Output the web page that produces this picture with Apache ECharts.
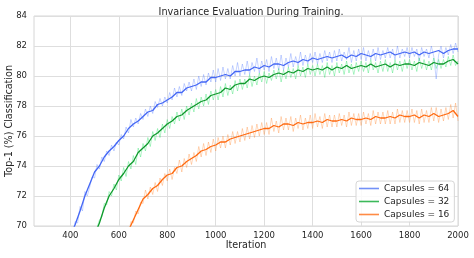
<!DOCTYPE html>
<html><head><meta charset="utf-8">
<script src="https://cdn.jsdelivr.net/npm/echarts@6/dist/echarts.min.js"></script>
<style>html,body{margin:0;padding:0;background:#fff}#c{width:474px;height:258px}</style>
</head><body><div id="c"></div>
<script>
// ---------- data ----------
const title = 'Invariance Evaluation During Training.';
const xName = 'Iteration';
const yName = 'Top-1 (%) Classification';
const seriesNames = ['Capsules = 64', 'Capsules = 32', 'Capsules = 16'];
const xTicks = [400, 600, 800, 1000, 1200, 1400, 1600, 1800, 2000];

// smoothed curves, one value every 20 iterations
const smoothStep = 20;
const cap64Start = 400;
const cap64 = [69.3,70.1,71.0,72.0,72.8,73.6,74.0,74.6,75.0,75.3,
  75.7,76.0,76.5,76.8,77.0,77.3,77.6,77.7,78.1,78.2,
  78.4,78.6,78.9,78.9,79.2,79.3,79.4,79.6,79.6,79.9,
  79.9,80.0,80.1,80.0,80.3,80.3,80.4,80.4,80.6,80.5,
  80.7,80.6,80.8,80.8,80.7,80.9,81.0,80.9,81.1,81.0,
  81.2,81.1,81.2,81.3,81.2,81.3,81.4,81.2,81.4,81.3,
  81.5,81.4,81.3,81.5,81.4,81.5,81.6,81.4,81.5,81.6,
  81.5,81.6,81.4,81.6,81.5,81.6,81.7,81.5,81.7,81.8,81.8];
const cap32Start = 500;
const cap32 = [69.4,70.2,71.2,72.0,72.5,73.1,73.5,74.0,74.3,74.9,
  75.2,75.5,76.0,76.2,76.5,76.8,77.0,77.3,77.4,77.7,
  77.9,78.1,78.3,78.4,78.7,78.8,78.9,79.2,79.1,79.4,
  79.5,79.5,79.8,79.7,79.9,80.0,79.9,80.1,80.2,80.1,
  80.3,80.2,80.4,80.3,80.5,80.4,80.5,80.4,80.6,80.4,
  80.6,80.5,80.7,80.5,80.6,80.7,80.6,80.8,80.6,80.7,
  80.8,80.6,80.8,80.7,80.8,80.8,80.7,80.9,80.8,80.7,
  80.9,80.8,80.8,81.0,81.1,80.8];
const cap16Start = 640;
const cap16 = [69.7,70.4,71.1,71.8,72.1,72.5,72.7,73.1,73.4,73.5,
  73.9,74.0,74.3,74.5,74.7,75.0,75.1,75.3,75.4,75.6,
  75.6,75.8,75.9,76.0,76.1,76.2,76.3,76.4,76.5,76.5,
  76.7,76.6,76.8,76.8,76.7,76.9,76.8,76.9,76.9,77.0,
  76.9,77.1,77.0,77.0,77.1,77.0,77.2,77.1,77.1,77.2,
  77.1,77.3,77.2,77.2,77.3,77.2,77.4,77.3,77.3,77.4,
  77.2,77.4,77.3,77.5,77.3,77.4,77.5,77.7,77.3];

// raw (unsmoothed) curves, one value every 10 iterations
const rawStep = 10;
const cap64Raw = [69.0,69.6,70.3,70.2,71.3,71.0,72.3,72.0,72.6,73.3,
  73.2,74.1,73.8,74.6,74.3,75.0,74.7,75.4,75.0,75.6,
  75.4,76.1,75.8,76.6,76.2,77.1,76.6,77.2,76.8,77.5,
  77.1,77.8,77.3,78.0,77.5,78.3,77.9,78.5,78.0,78.6,
  78.2,78.9,78.4,79.2,78.6,79.3,78.7,79.5,79.0,79.6,
  79.0,79.8,79.1,80.0,79.3,80.1,79.4,80.2,79.6,80.4,
  79.6,80.5,79.7,80.6,79.8,80.5,79.8,80.7,80.0,80.9,
  80.0,80.8,80.1,81.0,80.1,80.9,80.3,81.2,80.2,81.0,
  80.4,81.1,80.3,81.3,80.5,81.2,80.4,81.4,80.4,81.2,
  80.6,81.5,80.6,81.3,80.7,81.6,80.7,81.4,80.8,81.5,
  80.9,81.6,80.8,81.5,80.9,81.7,81.0,81.6,80.9,81.7,
  81.0,81.8,81.0,81.6,81.1,81.9,80.9,81.7,81.0,81.8,
  81.1,81.9,81.0,81.7,81.1,81.8,81.0,81.9,81.1,81.7,
  81.2,81.9,81.2,81.8,81.1,82.0,81.2,81.8,81.3,81.9,
  81.2,81.9,81.3,81.8,81.0,81.9,81.3,81.8,81.2,82.0,
  81.3,79.8,81.4,82.0,81.2,81.9,81.4,82.1,81.5,82.2,81.6];
const cap32Raw = [69.0,69.9,70.4,70.6,71.5,71.4,72.3,72.0,72.8,72.4,
  73.4,73.0,73.9,73.3,74.3,73.8,74.7,74.1,75.2,74.6,
  75.5,75.0,75.9,75.3,76.3,75.7,76.5,75.9,76.8,76.2,
  77.1,76.5,77.3,76.8,77.6,77.0,77.8,77.1,78.0,77.4,
  78.2,77.6,78.5,77.8,78.6,78.0,78.8,78.1,79.0,78.4,
  79.1,78.4,79.3,78.6,79.5,78.7,79.4,78.8,79.7,79.0,
  79.8,79.1,79.8,79.2,80.1,79.3,80.0,79.4,80.2,79.6,
  80.3,79.5,80.2,79.7,80.4,79.8,80.5,79.6,80.4,79.8,
  80.6,79.9,80.5,79.8,80.7,80.0,80.6,79.9,80.8,80.1,
  80.7,80.0,80.8,80.1,80.7,79.9,80.9,80.1,80.7,80.0,
  80.9,80.2,80.8,80.1,81.0,80.2,80.8,80.1,80.9,80.3,
  81.0,80.3,80.9,80.2,81.1,80.4,80.9,80.2,81.0,80.3,
  81.1,80.3,80.9,80.2,81.1,80.4,81.0,80.3,81.1,80.5,
  81.1,80.4,81.0,80.3,81.2,80.5,81.1,80.4,81.0,80.4,
  81.2,80.5,81.1,80.5,81.1,80.6,81.3,80.7,81.4,80.7,81.0];
const cap16Raw = [69.4,70.3,70.2,71.0,70.8,71.6,
  71.5,72.4,71.8,72.6,72.1,72.9,72.3,73.2,72.7,73.5,
  73.0,73.8,73.1,73.9,73.5,74.4,73.6,74.5,73.9,74.8,
  74.1,74.9,74.3,75.3,74.6,75.5,74.7,75.6,74.9,75.8,
  75.0,75.9,75.2,76.0,75.2,76.1,75.4,76.3,75.5,76.3,
  75.6,76.5,75.7,76.6,75.8,76.7,75.9,76.8,76.0,76.9,
  76.1,76.9,76.1,77.2,76.3,77.0,76.2,77.3,76.4,77.2,
  76.4,77.3,76.3,77.2,76.5,77.4,76.4,77.2,76.5,77.4,
  76.5,77.5,76.6,77.3,76.5,77.5,76.6,77.4,76.6,77.4,
  76.6,77.5,76.7,77.4,76.6,77.6,76.7,77.5,76.7,77.5,
  76.7,77.6,76.8,77.5,76.7,77.7,76.8,77.6,76.8,77.6,
  76.8,77.7,76.8,77.6,76.8,77.8,76.9,77.7,76.9,77.7,
  76.9,77.8,76.9,77.7,76.8,77.8,76.9,77.7,76.9,77.9,
  77.0,77.9,76.9,77.8,77.0,77.9,77.1,78.1,77.2,78.2,77.0];

// ---------- build ----------
function pairs(start, step, vals) { return vals.map((v, i) => [start + i * step, v]); }

const mainColors = ['#4467f5', '#0f9a2c', '#ff6a10'];
const rawColors = ['rgba(80,120,255,0.32)', 'rgba(40,225,100,0.36)', 'rgba(255,130,40,0.32)'];
const legendColors = ['#7391f7', '#3cb95a', '#ff8b45'];
const smooth = [[cap64Start, cap64], [cap32Start, cap32], [cap16Start, cap16]];
const raw = [[cap64Start, cap64Raw], [cap32Start, cap32Raw], [cap16Start, cap16Raw]];

const series = [];
for (let k = 0; k < 3; k++) {
  series.push({
    name: seriesNames[k] + ' raw', type: 'line', symbol: 'none', silent: true,
    data: pairs(raw[k][0], rawStep, raw[k][1]),
    lineStyle: { color: rawColors[k], width: 1 }, itemStyle: { color: rawColors[k] }, z: 2 + k * 2
  });
  series.push({
    name: seriesNames[k], type: 'line', symbol: 'none', showSymbol: false,
    data: pairs(smooth[k][0], smoothStep, smooth[k][1]),
    lineStyle: { color: mainColors[k], width: 1.3 }, itemStyle: { color: mainColors[k] }, z: 3 + k * 2
  });
}

const txt = '#262626';
const chart = echarts.init(document.getElementById('c'), null, { renderer: 'canvas' });
chart.setOption({
  animation: false,
  backgroundColor: '#fff',
  textStyle: { fontFamily: 'DejaVu Sans' },
  title: { text: title, left: 246, top: 2, textAlign: 'center',
    textStyle: { fontSize: 9.7, fontWeight: 'normal', color: txt, fontFamily: 'DejaVu Sans' } },
  grid: { left: 34, right: 16, top: 16, bottom: 32, show: true, borderColor: '#d6d6d6', borderWidth: 1, containLabel: false, outerBoundsMode: 'none' },
  legend: {
    data: seriesNames.map((n, i) => ({ name: n, icon: 'rect', itemStyle: { color: legendColors[i] } })),
    orient: 'vertical', left: 356, top: 181, itemWidth: 20, itemHeight: 1.6, itemGap: 2,
    padding: [2, 5, 2, 3], backgroundColor: 'rgba(255,255,255,0.85)', borderColor: '#d6d6d6', borderWidth: 1, borderRadius: 3,
    textStyle: { fontSize: 9, color: txt, lineHeight: 11, fontFamily: 'DejaVu Sans' }
  },
  xAxis: {
    type: 'value', min: 250, max: 2000, name: xName, nameLocation: 'middle', nameGap: 14, nameMoveOverlap: false,
    nameTextStyle: { fontSize: 9.6, color: txt, fontFamily: 'DejaVu Sans' },
    axisLine: { show: false }, axisTick: { show: false, customValues: xTicks },
    axisLabel: { customValues: xTicks, formatter: v => String(v), fontSize: 8.5, color: txt, margin: 5, fontFamily: 'DejaVu Sans' },
    splitLine: { show: true, customValues: xTicks, lineStyle: { color: '#dedede', width: 1 } }
  },
  yAxis: {
    type: 'value', min: 70, max: 84, interval: 2, name: yName, nameLocation: 'middle', nameGap: 20, nameMoveOverlap: false,
    nameTextStyle: { fontSize: 9.6, color: txt, fontFamily: 'DejaVu Sans' },
    axisLine: { show: false }, axisTick: { show: false },
    axisLabel: { fontSize: 8.5, color: txt, margin: 7, fontFamily: 'DejaVu Sans' },
    splitLine: { show: true, lineStyle: { color: '#dedede', width: 1 } }
  },
  series: series
});
</script></body></html>
